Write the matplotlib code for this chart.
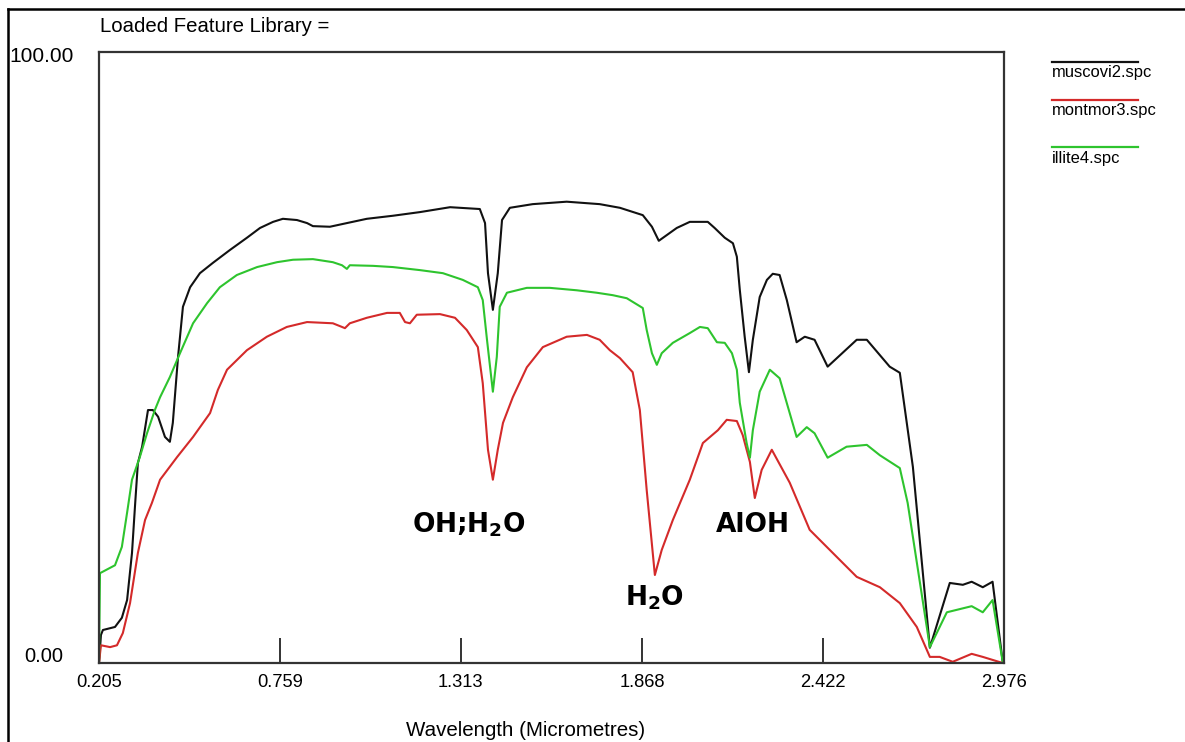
import matplotlib
matplotlib.use("Agg")
import matplotlib.pyplot as plt
from matplotlib.lines import Line2D

plt.rcParams['font.family'] = ['Liberation Sans', 'DejaVu Sans']
plt.rcParams['mathtext.fontset'] = 'dejavusans'

# ---------------- data (wavelength in micrometres, reflectance %) ----------------
muscovite_x = [0.205, 0.211, 0.217, 0.254, 0.275, 0.291, 0.306, 0.315, 0.324, 0.337,
               0.355, 0.370, 0.386, 0.407, 0.422, 0.431, 0.447, 0.462, 0.484, 0.514,
               0.554, 0.606, 0.658, 0.698, 0.738, 0.768, 0.811, 0.842, 0.860, 0.912,
               0.964, 1.025, 1.105, 1.188, 1.280, 1.371, 1.387, 1.396, 1.411, 1.426,
               1.439, 1.463, 1.533, 1.637, 1.738, 1.800, 1.870, 1.898, 1.919, 1.974,
               2.014, 2.069, 2.090, 2.121, 2.146, 2.158, 2.167, 2.182, 2.195, 2.207,
               2.228, 2.250, 2.268, 2.289, 2.311, 2.341, 2.366, 2.396, 2.436, 2.525,
               2.556, 2.626, 2.657, 2.697, 2.749, 2.810, 2.850, 2.877, 2.911, 2.941,
               2.972]
muscovite_y = [0.0, 4.6, 5.4, 5.9, 7.4, 10.3, 18.0, 25.5, 32.7, 35.4,
               41.4, 41.4, 40.3, 37.0, 36.2, 39.3, 50.1, 58.3, 61.5, 63.8,
               65.5, 67.6, 69.6, 71.2, 72.2, 72.7, 72.5, 72.0, 71.5, 71.4,
               72.0, 72.7, 73.2, 73.8, 74.6, 74.3, 72.0, 63.8, 57.8, 63.8,
               72.5, 74.5, 75.1, 75.5, 75.1, 74.5, 73.3, 71.4, 69.1, 71.2,
               72.2, 72.2, 71.2, 69.6, 68.7, 66.5, 61.1, 53.4, 47.6, 52.9,
               59.9, 62.7, 63.7, 63.5, 59.4, 52.5, 53.4, 52.9, 48.5, 52.9,
               52.9, 48.5, 47.5, 32.1, 2.5, 13.1, 12.8, 13.3, 12.4, 13.3,
               0.2]

montmor_x = [0.205, 0.211, 0.239, 0.260, 0.278, 0.300, 0.324, 0.346, 0.367, 0.392,
             0.444, 0.493, 0.545, 0.569, 0.597, 0.658, 0.719, 0.780, 0.842, 0.921,
             0.949, 0.958, 0.973, 1.025, 1.087, 1.126, 1.142, 1.157, 1.178, 1.249,
             1.295, 1.331, 1.365, 1.380, 1.396, 1.411, 1.426, 1.442, 1.472, 1.515,
             1.564, 1.637, 1.699, 1.738, 1.769, 1.800, 1.839, 1.861, 1.882, 1.907,
             1.928, 1.962, 2.014, 2.054, 2.100, 2.127, 2.158, 2.176, 2.198, 2.213,
             2.234, 2.265, 2.320, 2.381, 2.452, 2.525, 2.596, 2.657, 2.709, 2.749,
             2.779, 2.819, 2.877, 2.911, 2.972]
montmor_y = [0.0, 2.9, 2.6, 2.9, 4.9, 9.8, 18.0, 23.4, 26.2, 30.0,
             33.7, 37.0, 40.9, 44.7, 48.0, 51.2, 53.4, 55.0, 55.8, 55.6,
             55.0, 54.8, 55.6, 56.5, 57.3, 57.3, 55.8, 55.6, 57.0, 57.1,
             56.5, 54.5, 51.7, 45.8, 34.9, 30.0, 34.9, 39.3, 43.5, 48.4,
             51.7, 53.4, 53.7, 52.9, 51.2, 49.9, 47.6, 41.4, 28.3, 14.4,
             18.5, 23.4, 30.0, 36.0, 38.1, 39.8, 39.6, 37.3, 32.9, 27.0,
             31.6, 34.9, 29.5, 21.8, 18.0, 14.1, 12.4, 9.8, 5.9, 1.0,
             1.0, 0.2, 1.5, 1.0, 0.0]

illite_x = [0.205, 0.208, 0.254, 0.275, 0.291, 0.306, 0.330, 0.352, 0.376, 0.392,
            0.422, 0.453, 0.493, 0.536, 0.575, 0.627, 0.689, 0.750, 0.799, 0.860,
            0.921, 0.949, 0.964, 0.973, 1.044, 1.105, 1.188, 1.258, 1.319, 1.365,
            1.380, 1.393, 1.411, 1.423, 1.432, 1.454, 1.515, 1.585, 1.668, 1.729,
            1.778, 1.821, 1.870, 1.882, 1.898, 1.913, 1.928, 1.962, 2.014, 2.045,
            2.069, 2.097, 2.121, 2.143, 2.158, 2.167, 2.188, 2.198, 2.207, 2.228,
            2.259, 2.289, 2.341, 2.372, 2.396, 2.436, 2.494, 2.556, 2.596, 2.657,
            2.681, 2.749, 2.801, 2.877, 2.911, 2.941, 2.972]
illite_y = [0.0, 14.7, 16.0, 19.0, 24.6, 30.0, 33.7, 37.6, 41.4, 43.5,
            46.8, 50.7, 55.6, 58.9, 61.5, 63.5, 64.8, 65.6, 66.0, 66.1,
            65.6, 65.1, 64.5, 65.1, 65.0, 64.8, 64.3, 63.8, 62.7, 61.5,
            59.4, 52.9, 44.4, 50.1, 58.3, 60.6, 61.4, 61.4, 61.0, 60.6,
            60.2, 59.7, 58.1, 54.5, 50.7, 48.8, 50.7, 52.4, 54.0, 55.0,
            54.8, 52.5, 52.4, 50.7, 48.0, 42.6, 36.0, 33.6, 38.1, 44.4,
            48.0, 46.6, 37.0, 38.6, 37.6, 33.6, 35.4, 35.7, 34.0, 31.9,
            26.2, 2.6, 8.3, 9.3, 8.3, 10.3, 0.2]

series_names = ['muscovi2.spc', 'montmor3.spc', 'illite4.spc']
series_colors = ['#111111', '#d42a2a', '#2ec42e']

xtick_values = [0.205, 0.759, 1.313, 1.868, 2.422, 2.976]
xtick_labels = ['0.205', '0.759', '1.313', '1.868', '2.422', '2.976']

annotations = [('OH;H$_\\mathbf{2}$O', 1.338, 22.6),
               ('H$_\\mathbf{2}$O', 1.907, 10.6),
               ('AlOH', 2.207, 22.6)]

# ---------------- figure ----------------
W, H = 1185, 742
fig = plt.figure(figsize=(W / 100, H / 100), dpi=100)
fig.patch.set_facecolor('white')

def fx(px):
    return px / W

def fy(py):
    return 1 - py / H

ax = fig.add_axes([fx(99), fy(663), fx(1004) - fx(99), (663 - 52) / H])

series = [(muscovite_x, muscovite_y), (montmor_x, montmor_y), (illite_x, illite_y)]
for (xs, ys), c in zip(series, series_colors):
    ax.plot(xs, ys, color=c, lw=1.5, solid_joinstyle='round')

ax.set_xlim(0.205, 2.976)
ax.set_ylim(0, 100)
ax.set_xticks(xtick_values)
ax.set_xticklabels(xtick_labels, fontsize=13.2)
ax.set_yticks([])
ax.tick_params(axis='x', direction='in', length=18, width=1.2, pad=8, color='#111111')
for s in ax.spines.values():
    s.set_color('#333333')
    s.set_linewidth(1.6)

for txt, x, y in annotations:
    ax.text(x, y, txt, ha='center', va='center', fontsize=19, fontweight='bold',
            family='DejaVu Sans', color='black')

# y labels, title, x label
fig.text(fx(42), fy(56), '100.00', ha='center', va='center', fontsize=15)
fig.text(fx(44), fy(656), '0.00', ha='center', va='center', fontsize=14.5)
fig.text(fx(100), fy(26), 'Loaded Feature Library =', ha='left', va='center', fontsize=14.7)
fig.text(fx(526), fy(731), 'Wavelength (Micrometres)', ha='center', va='center', fontsize=14.8)

# legend (manual, outside the plot)
leg_rows = [62, 100, 147]
for name, c, ly in zip(series_names, series_colors, leg_rows):
    fig.add_artist(Line2D([fx(1052), fx(1138)], [fy(ly), fy(ly)], color=c, lw=1.6))
    fig.text(fx(1052), fy(ly + 11), name, ha='left', va='center', fontsize=11.9)

# outer frame (left and top edges)
fig.add_artist(Line2D([fx(8), fx(8)], [fy(9), 0], color='black', lw=1.8))
fig.add_artist(Line2D([fx(8), 1], [fy(9), fy(9)], color='black', lw=1.8))

fig.savefig('out.png', dpi=100)
